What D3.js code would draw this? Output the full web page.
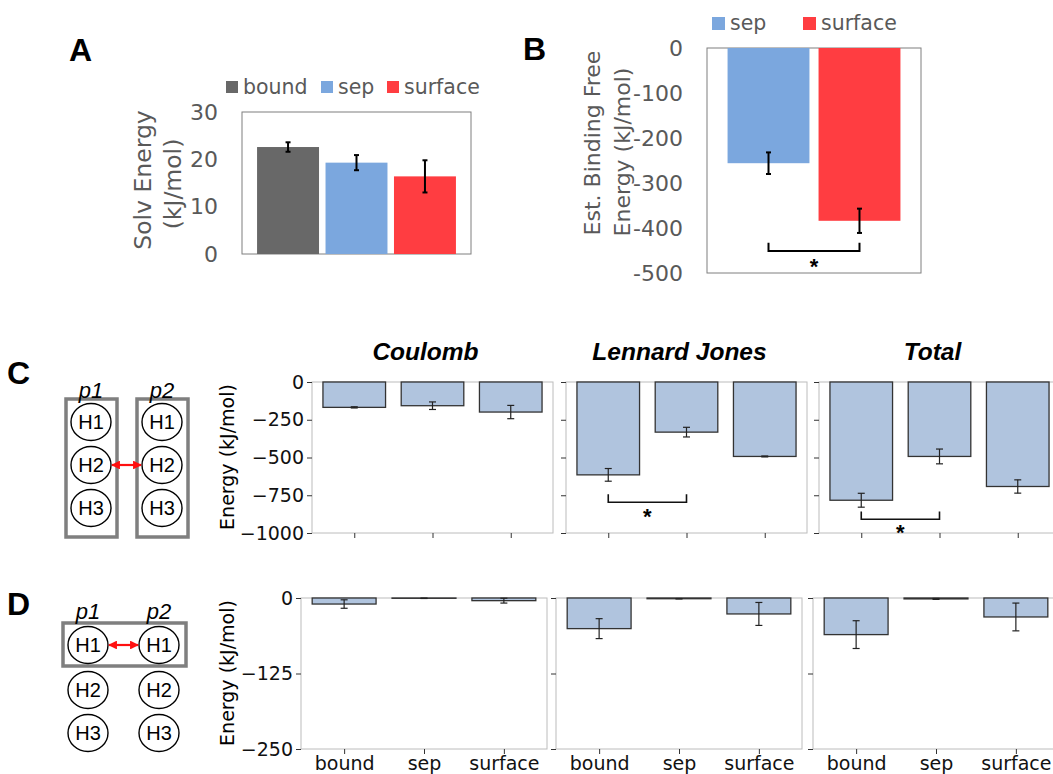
<!doctype html>
<meta charset="utf-8">
<title>Binding energies</title>
<script src="https://cdn.jsdelivr.net/npm/d3@7"></script>
<style>
  body { margin: 0; background: #fff; }
  svg { display: block; }
</style>
<svg id="fig" width="1053" height="774"></svg>
<script>
  // panel A: solvation energy
  const solvCats = ['bound', 'sep', 'surface']
  const solvMean = [22.6, 19.3, 16.4]
  const solvErr = [1.0, 1.6, 3.4]
  const solvTicks = [0, 10, 20, 30]

  // panel B: estimated binding free energy
  const bindCats = ['sep', 'surface']
  const bindMean = [-256, -384]
  const bindErr = [24, 27]
  const bindTicks = [0, -100, -200, -300, -400, -500]

  const stateColor = { bound: '#686868', sep: '#7ba7de', surface: '#ff3d41' }

  // panels C / D: interaction energies per term
  const energyCats = ['bound', 'sep', 'surface']
  const termNames = ['Coulomb', 'Lennard Jones', 'Total']
  const cCoulomb = [-168, -157, -199], cCoulombErr = [4, 25, 44]
  const cLJ = [-615, -332, -493], cLJErr = [42, 32, 3]
  const cTotal = [-783, -493, -692], cTotalErr = [46, 49, 44]
  const dCoulomb = [-10, -0.5, -4.4], dCoulombErr = [7, 0.3, 4]
  const dLJ = [-50.7, -1.2, -26.4], dLJErr = [16.5, 0.3, 19]
  const dTotal = [-60.6, -1.5, -31.4], dTotalErr = [23, 0.8, 23]
  const cTicks = [0, -250, -500, -750, -1000]
  const dTicks = [0, -125, -250]

  // significance brackets (data units)
  const bindSig = { a: 'sep', b: 'surface', top: -433, line: -451, star: -476 }
  const cSig = [null,
    { a: 'bound', b: 'sep', top: -743, line: -796, star: -858 },
    { a: 'bound', b: 'sep', top: -858, line: -909, star: -969 }]

  const svg = d3.select('#fig')
  svg.append('rect').attr('width', 1053).attr('height', 774).attr('fill', '#fff')

  const GRAY = '#595959'
  const excelFont = 'DejaVu Sans, Verdana, sans-serif'
  const mplFont = 'DejaVu Sans, sans-serif'
  const arial = 'Liberation Sans, Arial, sans-serif'

  function panelLetter(t, x, y) {
    svg.append('text').attr('x', x).attr('y', y).text(t)
      .attr('font-family', arial).attr('font-weight', 'bold').attr('font-size', 32)
  }
  panelLetter('A', 69, 61)
  panelLetter('B', 523, 60)
  panelLetter('C', 7, 384)
  panelLetter('D', 7, 615)

  function star(x, y) {
    svg.append('text').attr('x', x).attr('y', y + 12).text('*')
      .attr('text-anchor', 'middle').attr('font-family', arial)
      .attr('font-weight', 'bold').attr('font-size', 22)
  }

  // ---------- panel A ----------
  {
    const left = 242, right = 471, top = 112, bottom = 254
    const x = d3.scaleBand().domain(solvCats).range([left, right]).paddingInner(0.095).paddingOuter(0.22)
    const y = d3.scaleLinear().domain([0, 30]).range([bottom, top])
    const g = svg.append('g')
    g.append('rect').attr('x', left).attr('y', top).attr('width', right - left).attr('height', bottom - top)
      .attr('fill', 'none').attr('stroke', '#7f7f7f').attr('stroke-width', 1)
    g.selectAll('.bar').data(solvMean).join('rect')
      .attr('x', (d, i) => x(solvCats[i])).attr('width', x.bandwidth())
      .attr('y', d => y(d)).attr('height', d => y(0) - y(d))
      .attr('fill', (d, i) => stateColor[solvCats[i]])
    const eb = g.selectAll('.err').data(solvMean).join('g')
      .attr('transform', (d, i) => `translate(${x(solvCats[i]) + x.bandwidth() / 2},0)`)
    eb.append('line').attr('y1', (d, i) => y(d - solvErr[i])).attr('y2', (d, i) => y(d + solvErr[i]))
    eb.append('line').attr('x1', -2.5).attr('x2', 2.5).attr('y1', (d, i) => y(d - solvErr[i])).attr('y2', (d, i) => y(d - solvErr[i]))
    eb.append('line').attr('x1', -2.5).attr('x2', 2.5).attr('y1', (d, i) => y(d + solvErr[i])).attr('y2', (d, i) => y(d + solvErr[i]))
    eb.selectAll('line').attr('stroke', '#000').attr('stroke-width', 2)

    const ax = g.append('g').attr('transform', `translate(${left},0)`)
      .call(d3.axisLeft(y).tickValues(solvTicks).tickSize(0).tickPadding(24))
    ax.select('.domain').remove()
    ax.selectAll('text').attr('font-family', excelFont).attr('font-size', 22).attr('fill', GRAY)

    const title = g.append('text').attr('transform', 'rotate(-90)')
      .attr('font-family', excelFont).attr('font-size', 23.5).attr('fill', GRAY).attr('text-anchor', 'middle')
    title.append('tspan').attr('x', -180).attr('y', 151).text('Solv Energy')
    title.append('tspan').attr('x', -184).attr('y', 181).text('(kJ/mol)')

    const legX = [226, 321, 387]
    const leg = g.selectAll('.leg').data(solvCats).join('g')
      .attr('transform', (d, i) => `translate(${legX[i]},81)`)
    leg.append('rect').attr('width', 12).attr('height', 12).attr('fill', d => stateColor[d])
    leg.append('text').attr('x', 17).attr('y', 13).text(d => d)
      .attr('font-family', excelFont).attr('font-size', 20.5).attr('fill', GRAY)
  }

  // ---------- panel B ----------
  {
    const left = 707, right = 921, top = 48, bottom = 273
    const x = d3.scaleBand().domain(bindCats).range([left, right]).paddingInner(0.1).paddingOuter(0.226)
    const y = d3.scaleLinear().domain([-500, 0]).range([bottom, top])
    const g = svg.append('g')
    g.append('rect').attr('x', left).attr('y', top).attr('width', right - left).attr('height', bottom - top)
      .attr('fill', 'none').attr('stroke', '#7f7f7f').attr('stroke-width', 1)
    g.selectAll('.bar').data(bindMean).join('rect')
      .attr('x', (d, i) => x(bindCats[i])).attr('width', x.bandwidth())
      .attr('y', y(0)).attr('height', d => y(d) - y(0))
      .attr('fill', (d, i) => stateColor[bindCats[i]])
    const eb = g.selectAll('.err').data(bindMean).join('g')
      .attr('transform', (d, i) => `translate(${x(bindCats[i]) + x.bandwidth() / 2},0)`)
    eb.append('line').attr('y1', (d, i) => y(d - bindErr[i])).attr('y2', (d, i) => y(d + bindErr[i]))
    eb.append('line').attr('x1', -2.5).attr('x2', 2.5).attr('y1', (d, i) => y(d - bindErr[i])).attr('y2', (d, i) => y(d - bindErr[i]))
    eb.append('line').attr('x1', -2.5).attr('x2', 2.5).attr('y1', (d, i) => y(d + bindErr[i])).attr('y2', (d, i) => y(d + bindErr[i]))
    eb.selectAll('line').attr('stroke', '#000').attr('stroke-width', 2)

    const xa = x(bindSig.a) + x.bandwidth() / 2, xb = x(bindSig.b) + x.bandwidth() / 2
    g.append('path')
      .attr('d', `M${xa},${y(bindSig.top)}V${y(bindSig.line)}H${xb}V${y(bindSig.top)}`)
      .attr('fill', 'none').attr('stroke', '#000').attr('stroke-width', 2)
    star((xa + xb) / 2, y(bindSig.star))

    const ax = g.append('g').attr('transform', `translate(${left},0)`)
      .call(d3.axisLeft(y).tickValues(bindTicks).tickSize(0).tickPadding(24).tickFormat(d => String(d)))
    ax.select('.domain').remove()
    ax.selectAll('text').attr('font-family', excelFont).attr('font-size', 22).attr('fill', GRAY)

    const title = g.append('text').attr('transform', 'rotate(-90)')
      .attr('font-family', excelFont).attr('font-size', 22).attr('fill', GRAY).attr('text-anchor', 'middle')
    title.append('tspan').attr('x', -143).attr('y', 600).text('Est. Binding Free')
    title.append('tspan').attr('x', -152).attr('y', 630).text('Energy (kJ/mol)')

    const legX = [712, 803]
    const leg = g.selectAll('.leg').data(bindCats).join('g')
      .attr('transform', (d, i) => `translate(${legX[i]},17)`)
    leg.append('rect').attr('width', 13).attr('height', 13).attr('fill', d => stateColor[d])
    leg.append('text').attr('x', 18).attr('y', 13).text(d => d)
      .attr('font-family', excelFont).attr('font-size', 20.5).attr('fill', GRAY)
  }

  // ---------- panels C / D ----------
  const minusFmt = d => d < 0 ? '\u2212' + Math.abs(d) : String(d)

  function energyPanel(o) {
    const x = d3.scaleLinear().domain([-0.54, 2.54]).range([o.left, o.left + o.width])
    const y = d3.scaleLinear().domain([o.min, 0]).range([o.top + o.height, o.top])
    const g = svg.append('g')
    g.append('rect').attr('x', o.left).attr('y', o.top).attr('width', o.width).attr('height', o.height)
      .attr('fill', 'none').attr('stroke', '#bcbcbc').attr('stroke-width', 1)
    g.selectAll('.bar').data(o.vals).join('rect')
      .attr('x', (d, i) => x(i - 0.4)).attr('width', x(0.8) - x(0))
      .attr('y', y(0)).attr('height', d => y(d) - y(0))
      .attr('fill', '#b0c4de').attr('stroke', '#333').attr('stroke-width', 1.3)
    const eb = g.selectAll('.err').data(o.vals).join('g')
      .attr('transform', (d, i) => `translate(${x(i)},0)`)
    eb.append('line').attr('y1', (d, i) => y(d - o.errs[i])).attr('y2', (d, i) => y(d + o.errs[i]))
    eb.append('line').attr('x1', -3.5).attr('x2', 3.5).attr('y1', (d, i) => y(d - o.errs[i])).attr('y2', (d, i) => y(d - o.errs[i]))
    eb.append('line').attr('x1', -3.5).attr('x2', 3.5).attr('y1', (d, i) => y(d + o.errs[i])).attr('y2', (d, i) => y(d + o.errs[i]))
    eb.selectAll('line').attr('stroke', '#222').attr('stroke-width', 1.2)

    if (o.sig) {
      const xa = x(energyCats.indexOf(o.sig.a)), xb = x(energyCats.indexOf(o.sig.b))
      g.append('path')
        .attr('d', `M${xa},${y(o.sig.top)}V${y(o.sig.line)}H${xb}V${y(o.sig.top)}`)
        .attr('fill', 'none').attr('stroke', '#111').attr('stroke-width', 1.6)
      star((xa + xb) / 2, y(o.sig.star))
    }

    const ay = g.append('g').attr('transform', `translate(${o.left},0)`)
      .call(d3.axisLeft(y).tickValues(o.ticks).tickSize(5).tickPadding(3)
        .tickFormat(o.yLabels ? minusFmt : ''))
    const axb = g.append('g').attr('transform', `translate(0,${o.top + o.height})`)
      .call(d3.axisBottom(x).tickValues([0, 1, 2]).tickSize(5).tickPadding(3)
        .tickFormat(o.xLabels ? (i => energyCats[i]) : ''))
    for (const a of [ay, axb]) {
      a.select('.domain').remove()
      a.selectAll('line').attr('stroke', '#333')
      a.selectAll('text').attr('font-family', mplFont).attr('font-size', 19).attr('fill', '#111')
    }
    if (o.title) {
      svg.append('text').attr('x', o.left + o.width / 2 - 7).attr('y', 360).text(o.title)
        .attr('text-anchor', 'middle').attr('font-family', arial)
        .attr('font-weight', 'bold').attr('font-style', 'italic').attr('font-size', 24.5)
    }
  }

  const cLefts = [312, 566, 819], dLefts = [301, 556, 813]
  const cVals = [cCoulomb, cLJ, cTotal], cErrs = [cCoulombErr, cLJErr, cTotalErr]
  const dVals = [dCoulomb, dLJ, dTotal], dErrs = [dCoulombErr, dLJErr, dTotalErr]
  termNames.forEach((name, k) => {
    energyPanel({ left: cLefts[k], width: 241, top: 382, height: 151, min: -1000, ticks: cTicks,
      vals: cVals[k], errs: cErrs[k], yLabels: k === 0, xLabels: false, title: name, sig: cSig[k] })
    energyPanel({ left: dLefts[k], width: 246, top: 598, height: 151, min: -250, ticks: dTicks,
      vals: dVals[k], errs: dErrs[k], yLabels: k === 0, xLabels: true })
  })

  for (const cy of [457, 673]) {
    svg.append('text').attr('transform', `translate(234,${cy}) rotate(-90)`).text('Energy (kJ/mol)')
      .attr('text-anchor', 'middle').attr('font-family', mplFont).attr('font-size', 19)
  }

  // ---------- schematic diagrams ----------
  const hLabels = ['H1', 'H2', 'H3']
  const protLabels = ['p1', 'p2']

  svg.append('defs').html(`
    <marker id="ah" viewBox="0 0 10 10" refX="9" refY="5" markerWidth="4" markerHeight="4" orient="auto-start-reverse">
      <path d="M0,0L10,5L0,10z" fill="#ff1010"/>
    </marker>`)

  function diagram(o) {
    const g = svg.append('g')
    o.boxes.forEach(b => {
      g.append('rect').attr('x', b[0]).attr('y', b[1]).attr('width', b[2]).attr('height', b[3])
        .attr('fill', 'none').attr('stroke', '#7f7f7f').attr('stroke-width', 3.5)
    })
    o.cols.forEach((cx, j) => {
      g.append('text').attr('x', cx).attr('y', o.labelY).text(protLabels[j])
        .attr('text-anchor', 'middle').attr('font-family', arial)
        .attr('font-style', 'italic').attr('font-size', 22)
      hLabels.forEach((h, i) => {
        const cy = o.rows[i]
        g.append('ellipse').attr('cx', cx).attr('cy', cy).attr('rx', 20).attr('ry', 18.5)
          .attr('fill', '#fff').attr('stroke', '#000').attr('stroke-width', 1.4)
        g.append('text').attr('x', cx).attr('y', cy + 7).text(h)
          .attr('text-anchor', 'middle').attr('font-family', arial)
          .attr('font-size', 20)
      })
    })
    const ay = o.rows[o.arrowRow]
    g.append('line').attr('x1', o.cols[0] + 21).attr('x2', o.cols[1] - 21).attr('y1', ay).attr('y2', ay)
      .attr('stroke', '#ff1010').attr('stroke-width', 2.2)
      .attr('marker-start', 'url(#ah)').attr('marker-end', 'url(#ah)')
  }

  diagram({ cols: [91, 162], rows: [422, 465, 508], labelY: 398, arrowRow: 1,
    boxes: [[66, 399, 51, 138], [137, 399, 51, 138]] })
  diagram({ cols: [88, 159], rows: [645, 690, 733], labelY: 619, arrowRow: 0,
    boxes: [[63, 623, 123, 43]] })
</script>
